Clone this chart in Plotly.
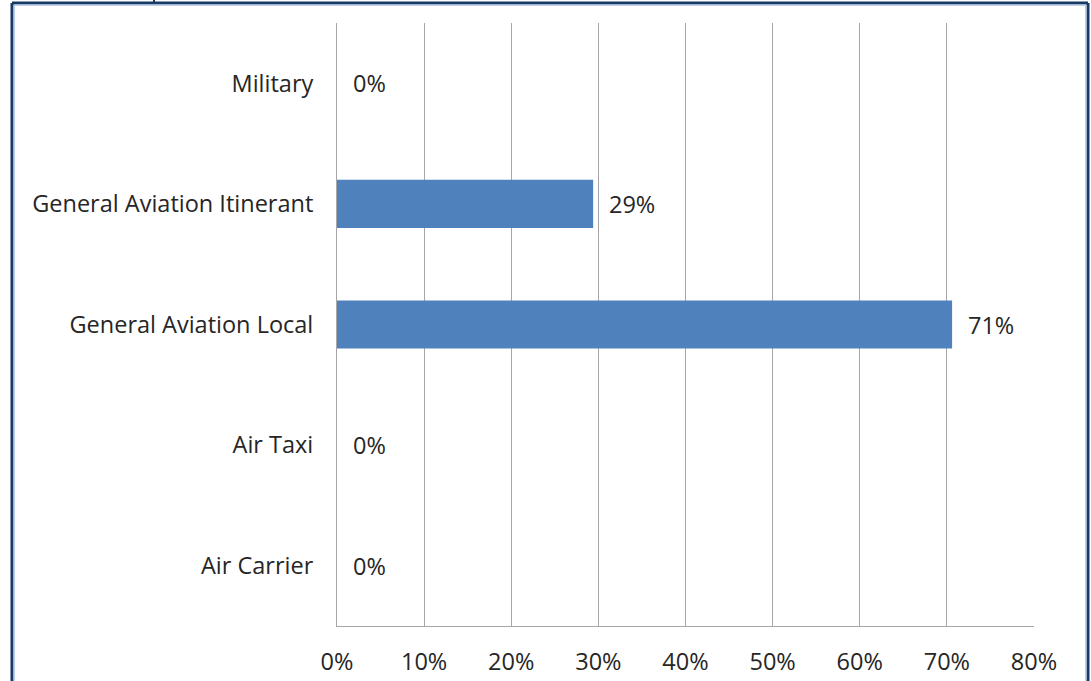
import plotly.graph_objects as go

# Share of operations by category
categories = ["Air Carrier", "Air Taxi", "General Aviation Local",
              "General Aviation Itinerant", "Military"]
shares = [0.0, 0.0, 0.706, 0.294, 0.0]
x_ticks = [0, 0.1, 0.2, 0.3, 0.4, 0.5, 0.6, 0.7, 0.8]
x_tick_labels = ["0%", "10%", "20%", "30%", "40%", "50%", "60%", "70%", "80%"]

W, H = 1091, 681
ML, MR, MT, MB = 337, 57, 23, 55
PW, PH = W - ML - MR, H - MT - MB

FONT = "Open Sans"
FS = 23.5
TEXT = "#262626"
GRID = "#a6a6a6"
BAR = "#4f81bd"
NAVY = "#183a66"
LIGHT = "#a9bedb"

fig = go.Figure(go.Bar(
    x=shares, y=categories, orientation="h",
    marker=dict(color=BAR, line=dict(width=0)),
    hoverinfo="skip",
))

# value labels to the right of each bar
for cat, v in zip(categories, shares):
    fig.add_annotation(x=v, y=cat, xref="x", yref="y", text=f"{v:.0%}",
                       showarrow=False, xanchor="left", yanchor="middle",
                       xshift=14, font=dict(family=FONT, size=FS, color=TEXT))


def px_x(p):
    return (p - ML) / PW


def px_y(p):
    return 1 - (p - MT) / PH


# frame around the chart
shapes = [
    dict(type="line", xref="paper", yref="paper", x0=px_x(12), x1=px_x(12),
         y0=px_y(3), y1=px_y(H + 5), line=dict(color=NAVY, width=3)),
    dict(type="line", xref="paper", yref="paper", x0=px_x(12), x1=px_x(1088),
         y0=px_y(3), y1=px_y(3), line=dict(color=NAVY, width=3)),
    dict(type="line", xref="paper", yref="paper", x0=px_x(1088), x1=px_x(1088),
         y0=px_y(3), y1=px_y(H + 5), line=dict(color=NAVY, width=3)),
    dict(type="line", xref="paper", yref="paper", x0=px_x(14), x1=px_x(1086),
         y0=px_y(5), y1=px_y(5), line=dict(color=LIGHT, width=1.5)),
    dict(type="line", xref="paper", yref="paper", x0=px_x(14), x1=px_x(14),
         y0=px_y(5), y1=px_y(H + 5), line=dict(color=LIGHT, width=1.5)),
    dict(type="line", xref="paper", yref="paper", x0=px_x(1086), x1=px_x(1086),
         y0=px_y(5), y1=px_y(H + 5), line=dict(color=LIGHT, width=1.5)),
    dict(type="line", xref="paper", yref="paper", x0=px_x(154), x1=px_x(154),
         y0=px_y(0), y1=px_y(3), line=dict(color=NAVY, width=2)),
]

fig.update_layout(
    template="none",
    width=W, height=H,
    margin=dict(l=ML, r=MR, t=MT, b=MB, pad=0, autoexpand=False),
    paper_bgcolor="white", plot_bgcolor="white",
    bargap=0.6, showlegend=False,
    font=dict(family=FONT, size=FS, color=TEXT),
    shapes=shapes,
    xaxis=dict(range=[0, 0.8], tickvals=x_ticks, ticktext=x_tick_labels,
               automargin=False,
               showgrid=True, gridcolor=GRID, gridwidth=1,
               showline=True, linecolor=GRID, linewidth=1,
               ticks="outside", ticklen=4, tickcolor="rgba(0,0,0,0)",
               ticklabelstandoff=11, zeroline=False,
               tickfont=dict(family=FONT, size=FS, color=TEXT), fixedrange=True),
    yaxis=dict(categoryorder="array", categoryarray=categories,
               automargin=False,
               showgrid=False, showline=True, linecolor=GRID, linewidth=1,
               ticks="outside", ticklen=4, tickcolor="rgba(0,0,0,0)",
               ticklabelstandoff=14,
               tickfont=dict(family=FONT, size=FS, color=TEXT), fixedrange=True),
)

fig.write_html("out.html", config={"displayModeBar": False})
